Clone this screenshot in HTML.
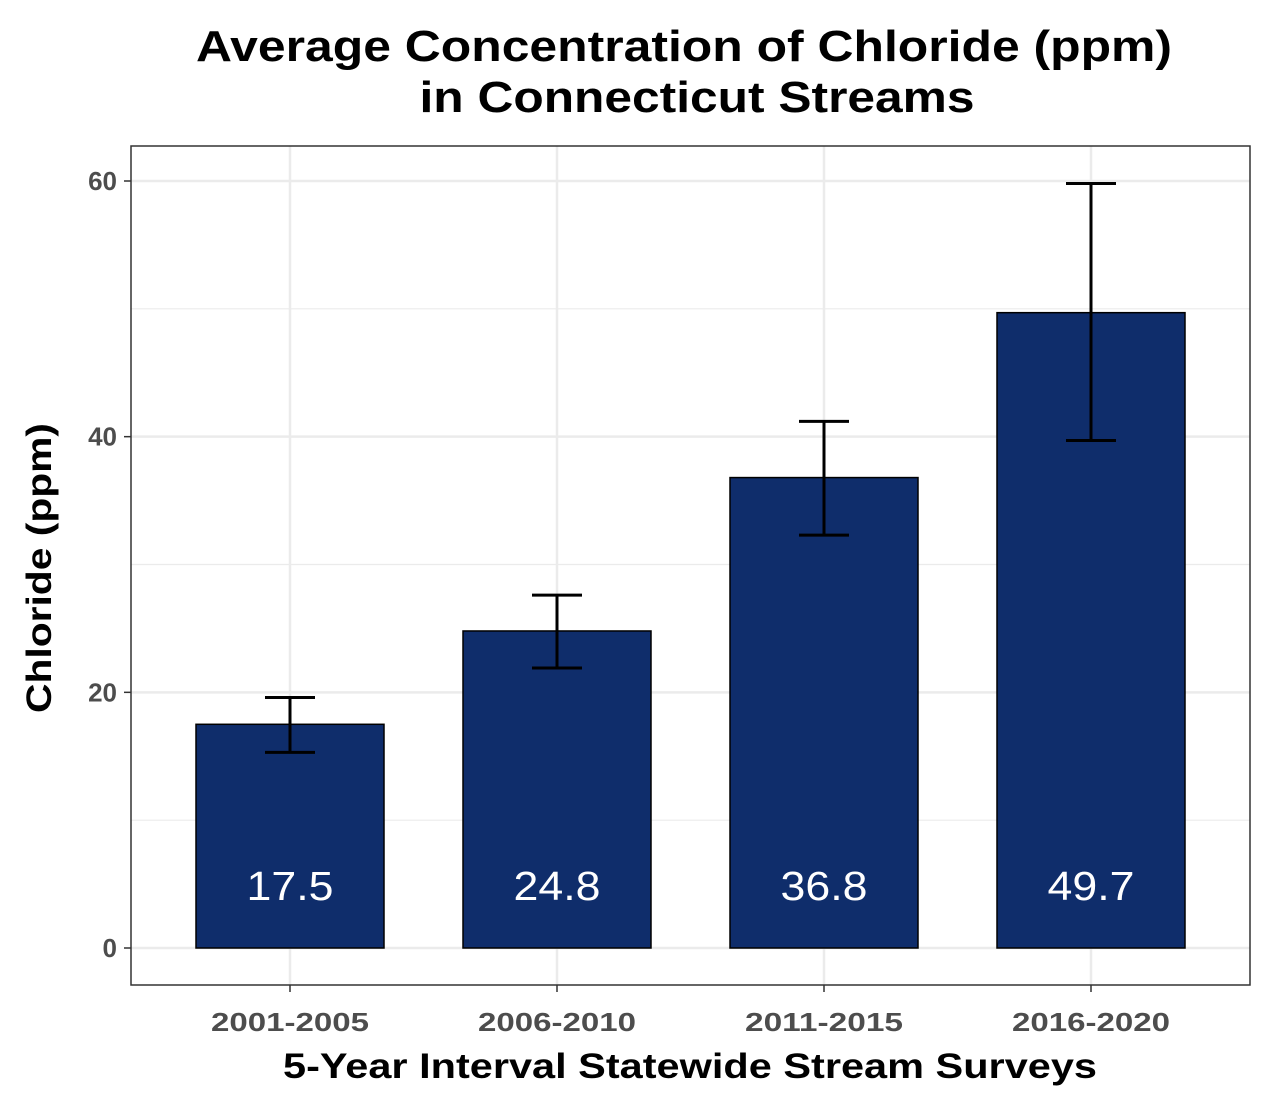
<!DOCTYPE html>
<html><head><meta charset="utf-8"><style>
body{margin:0;background:#fff;}
svg{display:block;font-family:"Liberation Sans",Arial,sans-serif;}
</style></head><body>
<svg id="chart" width="1274" height="1111" viewBox="0 0 1274 1111">
<text x="684" y="61" text-anchor="middle" font-size="44" font-weight="bold" textLength="976" lengthAdjust="spacingAndGlyphs">Average Concentration of Chloride (ppm)</text>
<text x="697" y="112" text-anchor="middle" font-size="44" font-weight="bold" textLength="555" lengthAdjust="spacingAndGlyphs">in Connecticut Streams</text>
<g id="grid"></g>
<g id="bars"></g>
<rect x="131" y="146" width="1119" height="839" fill="none" stroke="#333" stroke-width="1.5"/>
<g id="axes"></g>
<text x="690" y="1078" text-anchor="middle" font-size="35" font-weight="bold" textLength="814" lengthAdjust="spacingAndGlyphs">5-Year Interval Statewide Stream Surveys</text>
<text transform="translate(51,568) rotate(-90)" text-anchor="middle" font-size="35" font-weight="bold" textLength="290" lengthAdjust="spacingAndGlyphs">Chloride (ppm)</text>
</svg>
<script>
const categories=["2001-2005","2006-2010","2011-2015","2016-2020"];
const values=[17.5,24.8,36.8,49.7];
const errLow=[15.3,21.9,32.3,39.7];
const errHigh=[19.6,27.6,41.2,59.8];
const labels=["17.5","24.8","36.8","49.7"];
const yTicks=[0,20,40,60];
const yMinor=[10,30,50];
const NS="http://www.w3.org/2000/svg";
const y=v=>948-v*(948-181)/60;
const x=i=>290+i*267;
const bw=188;
function mk(tag,attrs,parent){const e=document.createElementNS(NS,tag);for(const k in attrs)e.setAttribute(k,attrs[k]);parent.appendChild(e);return e;}
const grid=document.getElementById('grid'),bars=document.getElementById('bars'),axes=document.getElementById('axes');
yMinor.forEach(v=>{const l=mk('line',{x1:131,x2:1250,y1:y(v),y2:y(v),stroke:'#ebebeb','stroke-width':1.2},grid);

});
yTicks.forEach(v=>{const l=mk('line',{x1:131,x2:1250,y1:y(v),y2:y(v),stroke:'#ebebeb','stroke-width':2.5},grid);


const t=mk('line',{x1:124,x2:131,y1:y(v),y2:y(v),stroke:'#333','stroke-width':1.5},axes);


const tx=mk('text',{x:117,y:y(v)+9,'text-anchor':'end','font-size':26,'font-weight':'bold',fill:'#4d4d4d'},axes);tx.textContent=v;

});
categories.forEach((c,i)=>{const l=mk('line',{x1:x(i),x2:x(i),y1:146,y2:985,stroke:'#ebebeb','stroke-width':2.5},grid);


const r=mk('rect',{x:x(i)-bw/2,y:y(values[i]),width:bw,height:y(0)-y(values[i]),fill:'#0f2d6b',stroke:'#000','stroke-width':1.5},bars);


const g=mk('path',{d:`M${x(i)-25},${y(errHigh[i])}H${x(i)+25}M${x(i)},${y(errHigh[i])}V${y(errLow[i])}M${x(i)-25},${y(errLow[i])}H${x(i)+25}`,stroke:'#000','stroke-width':3,fill:'none'},bars);


const vl=mk('text',{x:x(i),y:900,'text-anchor':'middle','font-size':41,fill:'#fff',textLength:87,lengthAdjust:'spacingAndGlyphs'},bars);vl.textContent=labels[i];


const t=mk('line',{x1:x(i),x2:x(i),y1:985,y2:992,stroke:'#333','stroke-width':1.5},axes);


const tx=mk('text',{x:x(i),y:1031,'text-anchor':'middle','font-size':26,'font-weight':'bold',fill:'#4d4d4d',textLength:158,lengthAdjust:'spacingAndGlyphs'},axes);tx.textContent=c;

});
</script>
</body></html>
